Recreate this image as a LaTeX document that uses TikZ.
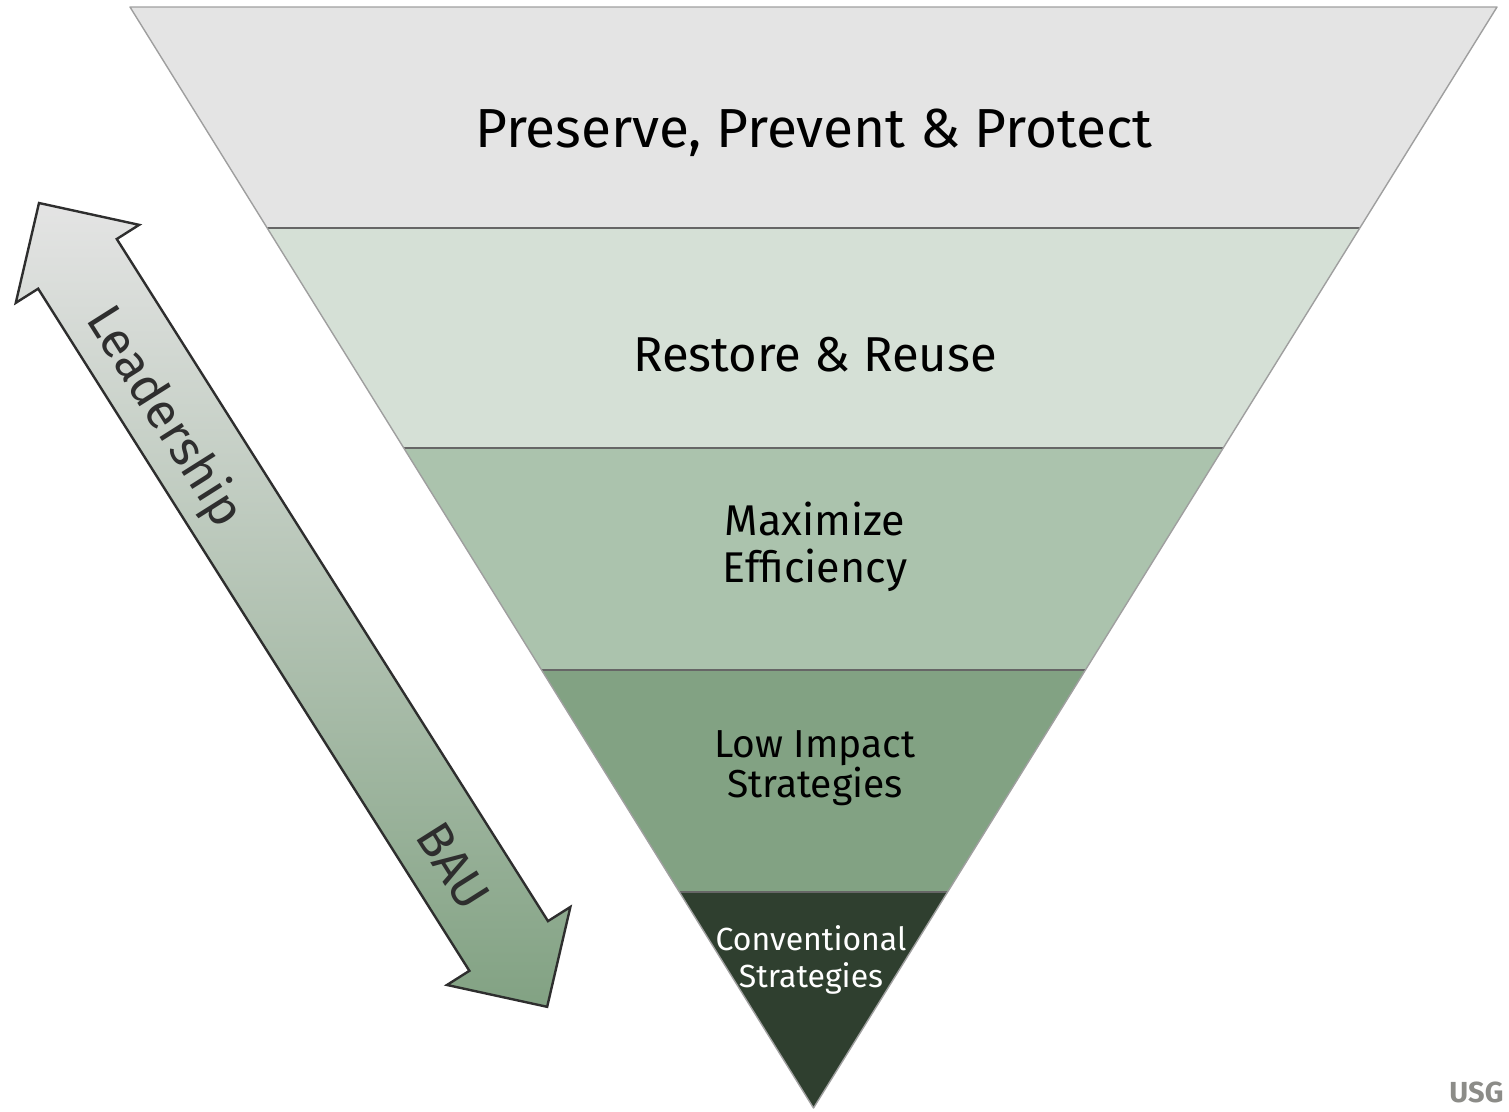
\documentclass[tikz,border=0pt]{standalone}
\usepackage{fontspec}
\setmainfont{Fira Sans}
\usetikzlibrary{calc}

\definecolor{bandA}{HTML}{E4E4E4}
\definecolor{bandB}{HTML}{D5E0D6}
\definecolor{bandC}{HTML}{ABC3AD}
\definecolor{bandD}{HTML}{82A283}
\definecolor{bandE}{HTML}{2F3F2F}
\definecolor{inkdark}{HTML}{2E2E2E}
\definecolor{usggray}{HTML}{8C8C88}

\tikzset{
  rim/.style={draw=gray!75, line width=1.4pt, line join=round},
  divider/.style={draw=black!60, line width=1.6pt},
  bandtext/.style={align=center, text=black},
  arrowtext/.style={text=inkdark, font=\fontsize{50}{56}\selectfont},
}

\begin{document}
\begin{tikzpicture}[x=1pt, y=-1pt]
\useasboundingbox (0,0) rectangle (1509,1111);

\coordinate (tl) at (130,7);
\coordinate (tr) at (1497,7);
\coordinate (apex) at (813.5,1108);

% bands of the funnel, top to bottom
\foreach \a/\b/\col in {0/0.2007/bandA, 0.2007/0.4005/bandB, 0.4005/0.6022/bandC,
                        0.6022/0.8038/bandD, 0.8038/1/bandE} {
  \fill[\col] ($(tl)!\a!(apex)$) -- ($(tr)!\a!(apex)$)
              -- ($(tr)!\b!(apex)$) -- ($(tl)!\b!(apex)$) -- cycle;
}
\foreach \t in {0.2007, 0.4005, 0.6022, 0.8038}
  \draw[divider] ($(tl)!\t!(apex)$) -- ($(tr)!\t!(apex)$);
\draw[rim] (tl) -- (tr) -- (apex) -- cycle;

\node[bandtext, anchor=base, font=\fontsize{55}{62}\selectfont] (preserve) at (814,147)
  {Preserve, Prevent \& Protect};
\node[bandtext, anchor=base, font=\fontsize{49}{56}\selectfont] (restore) at (815,371)
  {Restore \& Reuse};
\node[bandtext, font=\fontsize{43}{47}\selectfont] (maximize) at (815,547)
  {Maximize\\Efficiency};
\node[bandtext, font=\fontsize{39}{40}\selectfont] (lowimpact) at (815,768)
  {Low Impact\\Strategies};
\node[bandtext, text=white, font=\fontsize{32}{37}\selectfont] (conventional) at (811,960)
  {Conventional\\Strategies};

% two-way arrow, Leadership <-> BAU
\begin{scope}[shift={(39,203)}, rotate=-57.7]
  \path[draw=inkdark, line width=2.4pt, line join=miter,
        top color=bandA, middle color=bandB, bottom color=bandD]
    (0,0) -- (72,73) -- (72,46.5) -- (879,46.5) -- (879,73) -- (951,0)
    -- (879,-73) -- (879,-46.5) -- (72,-46.5) -- (72,-73) -- cycle;
  \node[arrowtext, rotate=-57.7] (lead) at (248,9) {Leadership};
  \node[arrowtext, rotate=-57.7] (bau) at (782,4) {BAU};
\end{scope}

\node[anchor=base east, text=usggray, font=\fontsize{29}{32}\selectfont\bfseries] (usg)
  at (1507,1102) {USG};
\end{tikzpicture}
\end{document}
